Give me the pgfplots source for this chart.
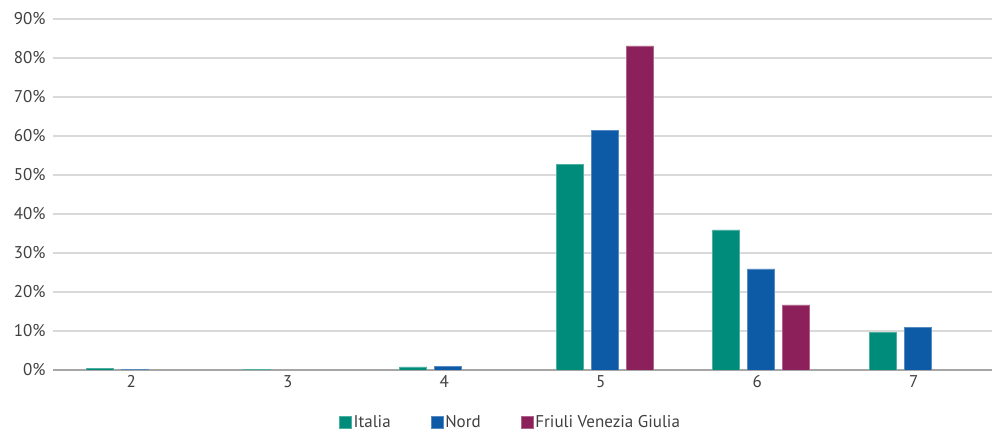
\documentclass[border=0pt]{standalone}
\usepackage{pgfplots}
\pgfplotsset{compat=1.18}
\usepackage{fontspec}
\setmainfont{PT Sans}
\usetikzlibrary{calc}

\definecolor{italia}{RGB}{0,140,122}
\definecolor{nord}{RGB}{13,90,167}
\definecolor{fvg}{RGB}{139,32,90}
\definecolor{gridc}{RGB}{217,217,217}
\definecolor{axisc}{RGB}{166,166,166}
\definecolor{txt}{RGB}{64,64,64}

\begin{document}
\begin{tikzpicture}
\begin{axis}[
  name=ax,
  scale only axis,
  width=939bp, height=351bp,
  xmin=1.5, xmax=7.5,
  ymin=0, ymax=90,
  ybar=8bp,
  bar width=27bp,
  every axis plot/.append style={xshift=4bp},
  xtick={2,3,4,5,6,7},
  xticklabels={2,3,4,5,6,7},
  ytick={0,10,20,30,40,50,60,70,80,90},
  yticklabels={0\%,10\%,20\%,30\%,40\%,50\%,60\%,70\%,80\%,90\%},
  major tick length=0pt,
  axis x line*=bottom,
  axis y line*=left,
  y axis line style={draw=none},
  x axis line style={draw=axisc, line width=1.2bp},
  ymajorgrids,
  grid style={draw=gridc, line width=1.2bp},
  ticklabel style={font=\fontsize{17bp}{20bp}\selectfont, text=txt},
  yticklabel style={xshift=-4bp},
  xticklabel style={yshift=-2bp},
  legend columns=3,
  legend style={
    draw=none, fill=none,
    font=\fontsize{17bp}{20bp}\selectfont, text=txt,
    at={($(axis description cs:0.5,0)+(-12bp,-52bp)$)}, anchor=center,
    /tikz/every even column/.append style={column sep=38bp},
    nodes={inner xsep=2bp, inner ysep=1bp},
  },
  legend image code/.code={\fill[#1] (0bp,-6bp) rectangle (12bp,6bp);},
]
\addplot[fill=italia, draw=italia!70!white, line width=0.6bp]
  coordinates {(2,0.4) (3,0.1) (4,0.8) (5,52.8) (6,35.9) (7,9.7)};
\addplot[fill=nord, draw=nord!70!white, line width=0.6bp]
  coordinates {(2,0.1) (4,1.0) (5,61.5) (6,25.9) (7,11.0)};
\addplot[fill=fvg, draw=fvg!70!white, line width=0.6bp]
  coordinates {(5,83.1) (6,16.7)};
\legend{Italia, Nord, Friuli Venezia Giulia}
\end{axis}
\pgfresetboundingbox
\path[use as bounding box] ($(ax.south west)+(-53bp,-61bp)$) rectangle ($(ax.north east)+(0bp,19bp)$);
\end{tikzpicture}
\end{document}
